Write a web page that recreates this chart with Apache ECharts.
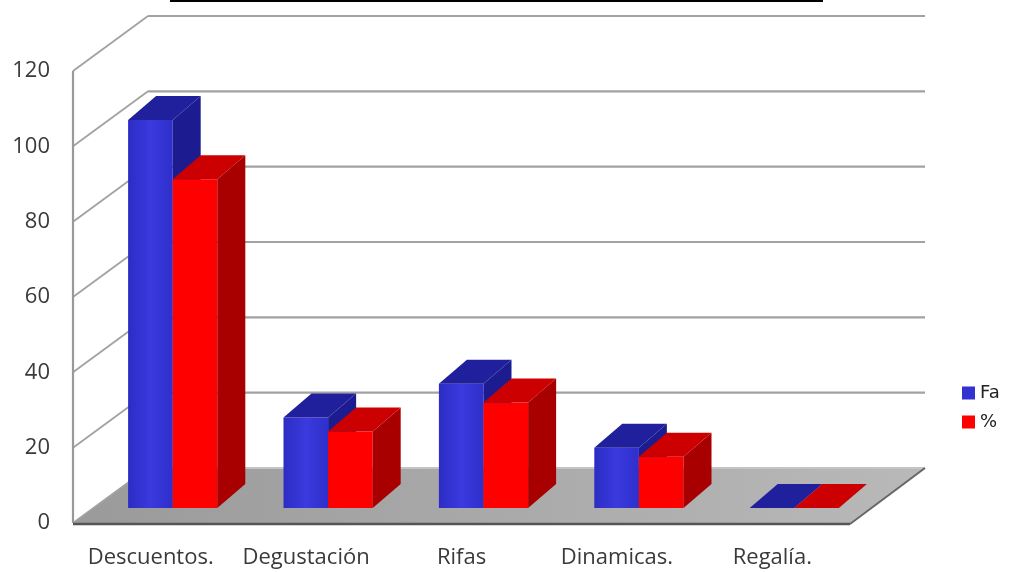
<!DOCTYPE html>
<html>
<head>
<meta charset="utf-8">
<script src="https://cdn.jsdelivr.net/npm/echarts@6/dist/echarts.min.js"></script>
<style>
  html, body { margin: 0; padding: 0; background: #fff; }
  #chart { width: 1011px; height: 572px; }
</style>
</head>
<body>
<div id="chart"></div>
<script>
const categories = ['Descuentos.', 'Degustación', 'Rifas', 'Dinamicas.', 'Regalía.'];
const faValues = [103, 24, 33, 16, 0];
const pctValues = [87.3, 20.3, 28, 13.6, 0];
const yTicks = [0, 20, 40, 60, 80, 100, 120];

// depth of the box (walls, floor) and of the bars
const wallDx = 75, wallDy = -55;
const barShiftX = 22, barShiftY = -15;
const barDx = 28, barDy = -24;

function renderFrame(params, api) {
    let cs = params.coordSys;
    let left = cs.x;
    let right = cs.x + cs.width;
    let y0 = api.coord([0, 0])[1];
    let yTop = api.coord([0, yTicks[yTicks.length - 1]])[1];
    let children = [];

    // floor
    children.push({
        type: 'polygon',
        shape: { points: [[left, y0], [right, y0], [right + wallDx, y0 + wallDy], [left + wallDx, y0 + wallDy]] },
        style: {
            fill: new echarts.graphic.LinearGradient(0, 0, 1, 0, [
                { offset: 0, color: '#9a9a9a' },
                { offset: 1, color: '#b9b9b9' }
            ])
        }
    });

    for (let i = 0; i < yTicks.length; i++) {
        let y = api.coord([0, yTicks[i]])[1];
        // back wall line
        children.push({
            type: 'line',
            shape: { x1: left + wallDx, y1: y + wallDy, x2: right + wallDx, y2: y + wallDy },
            style: { stroke: i == 0 ? '#c4c4c4' : '#a2a2a2', lineWidth: 2.2 }
        });
        // side wall line
        children.push({
            type: 'line',
            shape: { x1: left, y1: y, x2: left + wallDx, y2: y + wallDy },
            style: { stroke: '#a2a2a2', lineWidth: 1.8 }
        });
    }

    // front edge of the side wall
    children.push({
        type: 'line',
        shape: { x1: left, y1: yTop, x2: left, y2: y0 },
        style: { stroke: '#999', lineWidth: 2.2 }
    });
    // floor front + right edges
    children.push({
        type: 'line',
        shape: { x1: left, y1: y0 + 1, x2: right, y2: y0 + 1 },
        style: { stroke: '#555', lineWidth: 2.5 }
    });
    children.push({
        type: 'line',
        shape: { x1: right, y1: y0 + 1, x2: right + wallDx, y2: y0 + wallDy },
        style: { stroke: '#666', lineWidth: 2 }
    });

    return { type: 'group', children: children };
}

function makeBarRenderer(side, front, sideColor, topColor) {
    return function (params, api) {
        let idx = api.value(0);
        let base = api.coord([idx, 0]);
        let top = api.coord([idx, api.value(1)]);
        let band = api.size([1, 0])[0];
        let w = band * 0.287;
        let x0 = base[0] + barShiftX + (side == 0 ? -w : 0);
        let yb = base[1] + barShiftY;
        let yt = top[1] + barShiftY;

        return {
            type: 'group',
            children: [
                {
                    type: 'rect',
                    shape: { x: x0, y: yt, width: w, height: yb - yt },
                    style: { fill: front }
                },
                {
                    type: 'polygon',
                    shape: { points: [[x0 + w, yt], [x0 + w + barDx, yt + barDy], [x0 + w + barDx, yb + barDy], [x0 + w, yb]] },
                    style: { fill: sideColor }
                },
                {
                    type: 'polygon',
                    shape: { points: [[x0, yt], [x0 + barDx, yt + barDy], [x0 + w + barDx, yt + barDy], [x0 + w, yt]] },
                    style: { fill: topColor }
                }
            ]
        };
    };
}

let blueFront = new echarts.graphic.LinearGradient(0, 0, 1, 0, [
    { offset: 0, color: '#2c2cc4' },
    { offset: 0.5, color: '#3a3ade' },
    { offset: 1, color: '#2f2fcc' }
]);

let chart = echarts.init(document.getElementById('chart'));

let option = {
    animation: false,
    backgroundColor: '#fff',
    grid: { left: 73, right: 161, top: 71, bottom: 49 },
    legend: {
        data: ['Fa', '%'],
        orient: 'vertical',
        left: 957,
        top: 379,
        icon: 'rect',
        itemWidth: 13,
        itemHeight: 13,
        itemGap: 11,
        textStyle: { fontFamily: 'DejaVu Sans', fontSize: 18, color: '#222' }
    },
    xAxis: {
        type: 'category',
        data: categories,
        axisLine: { show: false },
        axisTick: { show: false },
        axisLabel: { interval: 0, margin: 24, fontFamily: 'Open Sans', fontSize: 22, color: '#3a3a3a' }
    },
    yAxis: {
        type: 'value',
        min: 0,
        max: 120,
        interval: 20,
        axisLine: { show: false },
        axisTick: { show: false },
        splitLine: { show: false },
        axisLabel: { margin: 23, fontFamily: 'Open Sans', fontSize: 22, color: '#3a3a3a' }
    },
    graphic: [
        {
            type: 'line',
            shape: { x1: 170, y1: 1, x2: 823, y2: 1 },
            style: { stroke: '#000', lineWidth: 2 }
        }
    ],
    series: [
        {
            type: 'custom',
            z: 1,
            silent: true,
            renderItem: renderFrame,
            data: [[0, 0]]
        },
        {
            name: 'Fa',
            type: 'custom',
            z: 2,
            itemStyle: { color: '#3232d0' },
            renderItem: makeBarRenderer(0, blueFront, '#1c1c90', '#20209c'),
            data: faValues.map((v, i) => [i, v])
        },
        {
            name: '%',
            type: 'custom',
            z: 2,
            itemStyle: { color: '#ff0000' },
            renderItem: makeBarRenderer(1, '#ff0000', '#a80000', '#cc0000'),
            data: pctValues.map((v, i) => [i, v])
        }
    ]
};

chart.setOption(option);
</script>
</body>
</html>
